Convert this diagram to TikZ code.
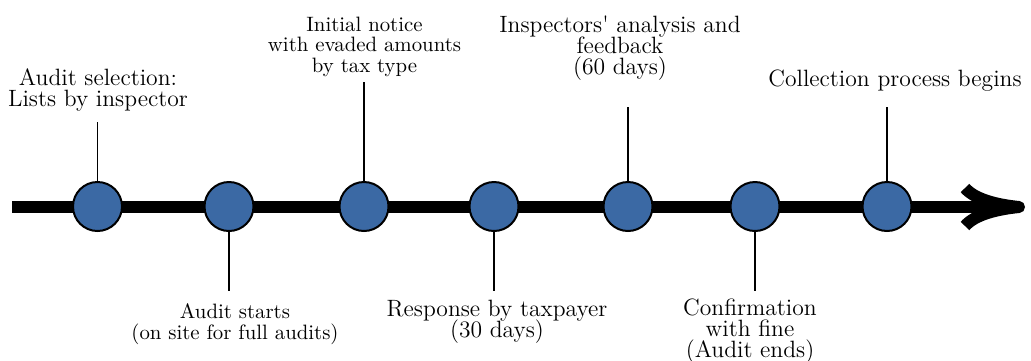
\documentclass[tikz,border=0pt]{standalone}
\usepackage{xcolor}
\usetikzlibrary{arrows.meta}
\definecolor{dotblue}{RGB}{59,105,164}

\begin{document}
\begin{tikzpicture}[x=0.5pt, y=-0.5pt,
	event/.style={circle, draw, line width=1pt, fill=dotblue, minimum size=24.5pt, inner sep=0pt},
	stem/.style={line width=0.9pt},
	biglabel/.style={align=center, anchor=base, inner sep=0pt, font={\fontsize{11.8}{10.5}\selectfont\lineskiplimit=-10pt\relax}},
	smalllabel/.style={align=center, anchor=base, inner sep=0pt, font={\fontsize{10.4}{10.25}\selectfont\lineskiplimit=-10pt\relax}}]
	   	\useasboundingbox (0,0) rectangle (1031,360);
	   	%TIMELINE
	   	\coordinate (start) at (12,207);
	   	\coordinate (stop) at (1025,207);
	   	\draw[line width=6pt, -{To[length=33pt,width=25pt,line cap=butt,line join=round]}] (start) -- (stop);
	   	%
	   	%Events
	   	\node (e1) at (97.5,206.5) [event] {};
	   	\node (e2) at (229,206.5) [event] {};
	   	\node (e3) at (364,206.5) [event] {};
	   	\node (e4) at (494,206.5) [event] {};
	   	\node (e5) at (628,206.5) [event] {};
	   	\node (e6) at (755,206.5) [event] {};
	   	\node (e7) at (887,206.5) [event] {};
	   	%
	   	%Stem ends
	   	\coordinate (s1) at (97.5,122);
	   	\coordinate (s2) at (229,291);
	   	\coordinate (s3) at (364,82);
	   	\coordinate (s4) at (494,291);
	   	\coordinate (s5) at (628,107);
	   	\coordinate (s6) at (755,291);
	   	\coordinate (s7) at (887,107);
	   	%
	   	%Stems
	   	\draw[stem] (e1.north) -- (s1);
	   	\draw[stem] (e2.south) -- (s2);
	   	\draw[stem] (e3.north) -- (s3);
	   	\draw[stem] (e4.south) -- (s4);
	   	\draw[stem] (e5.north) -- (s5);
	   	\draw[stem] (e6.south) -- (s6);
	   	\draw[stem] (e7.north) -- (s7);
	   	%
	   	%Labels above
	   	\node (l1) at (98,106) [biglabel] {Audit selection:\\Lists by inspector};
	   	\node (l3) at (364.5,72) [smalllabel] {Initial notice\\with evaded amounts\\by tax type};
	   	\node (l5) at (620,74) [biglabel] {Inspectors\textquotesingle{} analysis and\\feedback\\(60 days)};
	   	\node (l7) at (895,86) [biglabel] {Collection process begins};
	   	%
	   	%Labels below
	   	\node (l2) at (235,339) [smalllabel] {Audit starts\\(on site for full audits)};
	   	\node (l4) at (497,337) [biglabel] {Response by taxpayer\\(30 days)};
	   	\node (l6) at (750,357) [biglabel] {Confirmation\\with fine\\(Audit ends)};
\end{tikzpicture}
\end{document}
